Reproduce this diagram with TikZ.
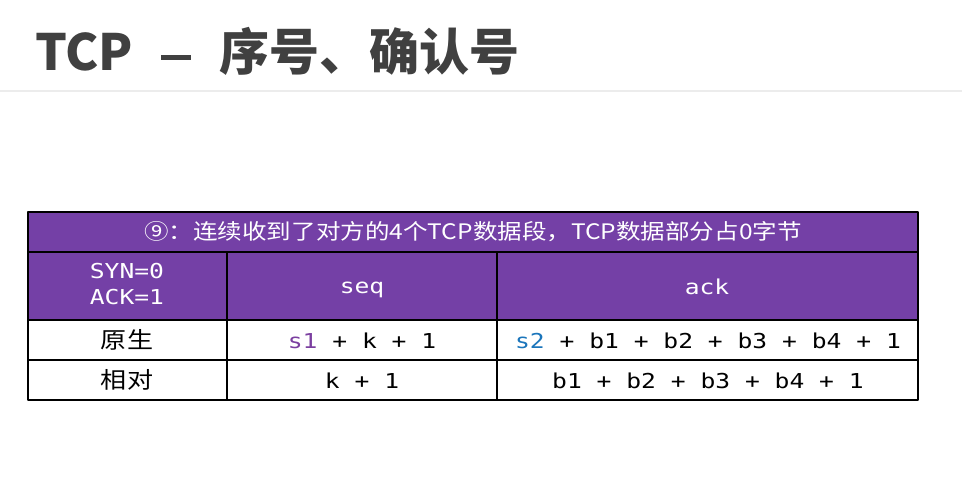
\documentclass[tikz,border=0pt]{standalone}
\usepackage{fontspec}
\newfontfamily\cjk{Noto Sans CJK SC}[FakeStretch=1.15]
\newfontfamily\cjktitle{Noto Sans CJK SC}
\newfontfamily\mono{DejaVu Sans Mono}[FakeStretch=1.2]
\definecolor{tablepurple}{RGB}{116,64,166}
\definecolor{sonepurple}{RGB}{123,63,160}
\definecolor{stwoblue}{RGB}{26,117,187}
\definecolor{titlegray}{RGB}{64,64,64}
\definecolor{rulegray}{RGB}{236,236,236}
\begin{document}
\begin{tikzpicture}[x=0.75pt, y=-0.75pt, line join=round, line cap=round,
    cell/.style={font=\mono\fontsize{15.4}{20}\selectfont, inner sep=0pt, text=black},
    headcell/.style={cell, text=white, align=center},
    namecell/.style={font=\cjk\fontsize{17}{20}\selectfont, inner sep=0pt}]
  \useasboundingbox (0,0) rectangle (962,493);
  % page heading
  \node[anchor=base west, inner sep=0pt, text=titlegray, font=\cjktitle\bfseries\fontsize{37.5}{40}\selectfont] (heading) at (35,70) {TCP\hspace{21pt}\rule[0.2em]{0.6em}{0.1em}\hspace{21pt}序号、确认号};
  \draw[rulegray, line width=1.5] (0,91) -- (962,91);
  % table frame
  \fill[tablepurple] (28,212) rectangle (918,320);
  \draw[line width=1] (28,212) rectangle (918,400);
  \foreach \y in {252,320,360} \draw[line width=1] (28,\y) -- (918,\y);
  \foreach \x in {227,497} \draw[line width=1] (\x,252) -- (\x,400);
  % texts
  \node[namecell, text=white, font=\cjk\fontsize{16}{20}\selectfont] (caption) at (473,232) {⑨：连续收到了对方的4个TCP数据段，TCP数据部分占0字节};
  \node[headcell] (flags) at (127,284) {SYN=0\\ACK=1};
  \node[headcell] (seqhead) at (362,290) {seq};
  \node[headcell] (ackhead) at (707,287) {ack};
  \node[namecell] (rawname) at (127,340) {原生};
  \node[cell] (rawseq) at (362,341) {\textcolor{sonepurple}{s1} + k + 1};
  \node[cell] (rawack) at (708,341) {\textcolor{stwoblue}{s2} + b1 + b2 + b3 + b4 + 1};
  \node[namecell] (relname) at (127,380) {相对};
  \node[cell] (relseq) at (362,381) {k + 1};
  \node[cell] (relack) at (708,381) {b1 + b2 + b3 + b4 + 1};
\end{tikzpicture}
\end{document}
